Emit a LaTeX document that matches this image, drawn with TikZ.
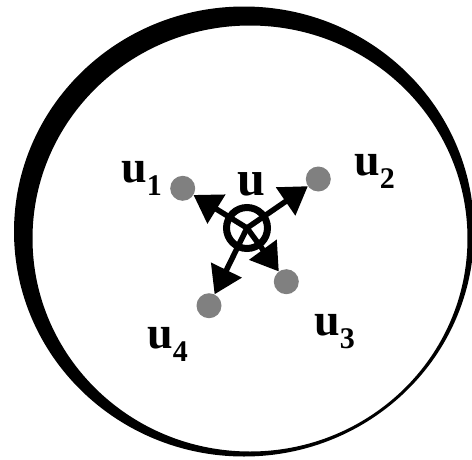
\documentclass[tikz,border=0pt]{standalone}
\usepackage{fontspec}
\setmainfont{Liberation Serif}
\usetikzlibrary{arrows.meta}
\definecolor{dotgray}{HTML}{808080}
\newcommand{\usub}[1]{\raisebox{-13pt}{\fontsize{30}{30}\selectfont #1}}
\begin{document}
\begin{tikzpicture}[x=1pt,y=-1pt,
  dot/.style={circle,fill=dotgray,minimum size=25pt,inner sep=0pt},
  lab/.style={anchor=base west,inner sep=0pt,font=\fontsize{46}{46}\selectfont\bfseries},
  arr/.style={line width=5.5pt,-{Triangle[length=27pt,width=33pt]}},
  ring/.style={circle,draw,line width=7pt,minimum size=41pt,inner sep=0pt}]
\useasboundingbox (0,0) rectangle (472,459);
% crescent outline
\fill[even odd rule] (244,231.5) ellipse [x radius=230,y radius=225]
                     (250,238.5) ellipse [x radius=217.5,y radius=213]
                     ;
% dots
\node[dot] (u1) at (182.7,188.3) {};
\node[dot] (u2) at (318.3,179) {};
\node[dot] (u3) at (286.3,281.7) {};
\node[dot] (u4) at (209,305.7) {};
% centre ring
\node[ring] (c) at (247,228) {};
% arrows
\draw[arr] (c.center) -- (u1);
\draw[arr] (c.center) -- (u2);
\draw[arr] (c.center) -- (u3);
\draw[arr] (c.center) -- (u4);
% labels
\node[lab,font=\fontsize{50}{50}\selectfont\bfseries] (lu) at (237,195) {u};
\node[lab] (l1) at (121,182) {u\usub{1}};
\node[lab] (l2) at (354,175) {u\usub{2}};
\node[lab] (l3) at (314,335) {u\usub{3}};
\node[lab] (l4) at (147,348) {u\usub{4}};
\end{tikzpicture}
\end{document}
